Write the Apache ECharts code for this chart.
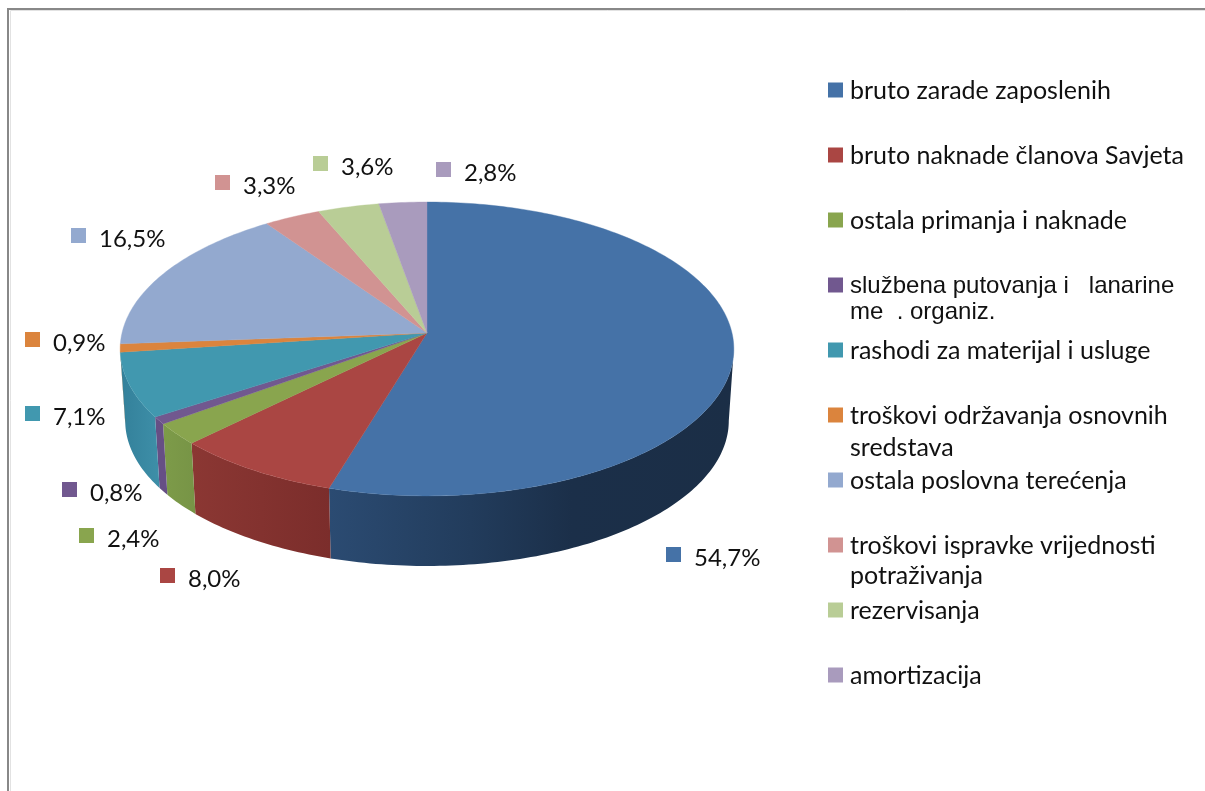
<!DOCTYPE html>
<html>
<head>
<meta charset="utf-8">
<style>
    html, body { margin: 0; padding: 0; background: #fff; }
    #chart { width: 1205px; height: 791px; }
</style>
<script src="https://cdn.jsdelivr.net/npm/echarts@6/dist/echarts.min.js"></script>
</head>
<body>
<div id="chart"></div>
<script>
    var categories = [
        'bruto zarade zaposlenih',
        'bruto naknade članova Savjeta',
        'ostala primanja i naknade',
        'službena putovanja i   lanarine',
        'rashodi za materijal i usluge',
        'troškovi održavanja osnovnih',
        'ostala poslovna terećenja',
        'troškovi ispravke vrijednosti',
        'rezervisanja',
        'amortizacija'
    ];
    var secondLines = ['', '', '', 'me  . organiz.', '', 'sredstava', '', 'potraživanja', '', ''];
    var shares = [54.7, 8.0, 2.4, 0.8, 7.1, 0.9, 16.5, 3.3, 3.6, 2.8];

    var topColors = ['#4572A7', '#AA4643', '#89A54E', '#71588F', '#4198AF', '#DB843D', '#93A9CF', '#D19392', '#B9CD96', '#A99BBD'];
    var wallColors = [
        [[0, '#2b4b72'], [0.35, '#223c5c'], [0.6, '#1b2f49'], [1, '#1b2e46']],
        [[0, '#8b3733'], [1, '#7b2d2b']],
        [[0, '#7d9b49'], [1, '#779446']],
        [[0, '#664f85'], [1, '#664f85']],
        [[0, '#33809a'], [1, '#3e8fa8']],
        [[0, '#c2742f'], [1, '#c2742f']],
        [[0, '#93A9CF'], [1, '#93A9CF']],
        [[0, '#D19392'], [1, '#D19392']],
        [[0, '#B9CD96'], [1, '#B9CD96']],
        [[0, '#A99BBD'], [1, '#A99BBD']]
    ];

    // left/top of the little square next to each percentage, text sits right of it
    var labelSpots = [[666, 547], [160, 568], [79, 528], [62, 482], [25, 406], [25, 332], [71, 228], [215, 175], [313, 156], [436, 162]];

    var textFont = 'Lato, "Open Sans", sans-serif';
    var labelSize = 24;
    var legendSize = 25;
    var perspective = 0.1087;
    var topRing = { cx: 427, cy: 333, a: 145.2, b: 305 };
    var bottomRing = { cx: 427, cy: 405, a: 143.5, b: 300 };
    // where the ellipse has its left and right extremes, wall stops there
    var wallEdge = Math.acos(-perspective) * 180 / Math.PI;

    function ringPoint(ring, deg) {
        var t = deg * Math.PI / 180;
        var w = 1 + perspective * Math.cos(t);
        return [ring.cx + ring.b * Math.sin(t) / w, ring.cy - ring.a * Math.cos(t) / w];
    }

    function arcPoints(ring, from, to) {
        var pts = [];
        var steps = Math.max(2, Math.ceil(Math.abs(to - from)));
        for (var i = 0; i <= steps; i++) {
            pts.push(ringPoint(ring, from + (to - from) * i / steps));
        }
        return pts;
    }

    function renderSlice(index) {
        return function (params, api) {
            var start = api.value(0);
            var end = api.value(1);
            var children = [];

            // side wall, only the part facing the viewer
            var wallFrom = Math.max(start, wallEdge);
            var wallTo = Math.min(end, 360 - wallEdge);
            if (wallTo > wallFrom) {
                var wall = arcPoints(topRing, wallFrom, wallTo).concat(arcPoints(bottomRing, wallTo, wallFrom));
                var stops = wallColors[index].map(function (s) { return { offset: s[0], color: s[1] }; });
                children.push({
                    type: 'polygon',
                    z2: 1,
                    shape: { points: wall },
                    style: { fill: new echarts.graphic.LinearGradient(0, 0, 1, 0, stops) }
                });
            }

            // top face
            var face = [[topRing.cx, topRing.cy]].concat(arcPoints(topRing, start, end));
            children.push({
                type: 'polygon',
                z2: 2,
                shape: { points: face },
                style: { fill: topColors[index], stroke: topColors[index], lineWidth: 0.4 }
            });

            // percentage with its square
            var spot = labelSpots[index];
            children.push({
                type: 'rect',
                z2: 3,
                shape: { x: spot[0], y: spot[1], width: 15, height: 15 },
                style: { fill: topColors[index] }
            });
            children.push({
                type: 'text',
                z2: 3,
                style: {
                    x: spot[0] + 28,
                    y: spot[1] + 11,
                    text: shares[index].toFixed(1).replace('.', ',') + '%',
                    fill: '#111',
                    font: labelSize + 'px ' + textFont,
                    verticalAlign: 'middle'
                }
            });
            return { type: 'group', children: children };
        };
    }

    var total = shares.reduce(function (a, b) { return a + b; }, 0);
    var running = 0;
    var series = categories.map(function (name, i) {
        var start = running / total * 360;
        running += shares[i];
        return {
            name: name,
            type: 'custom',
            coordinateSystem: 'none',
            silent: true,
            itemStyle: { color: topColors[i] },
            renderItem: renderSlice(i),
            data: [[start, running / total * 360]]
        };
    });

    // second lines of the long legend entries, ECharts legend can't keep even rows with them
    var extraOffsets = { 3: 223, 5: 358, 7: 486 };
    var extraText = [];
    secondLines.forEach(function (line, i) {
        if (!line) return;
        extraText.push({
            type: 'text',
            left: 850,
            top: 90 + extraOffsets[i] - 13,
            style: {
                text: line,
                fill: '#111',
                font: (i === 3 ? '24px "Liberation Sans"' : legendSize + 'px ' + textFont)
            }
        });
    });

    var chart = echarts.init(document.getElementById('chart'));
    chart.setOption({
        animation: false,
        color: topColors,
        legend: {
            orient: 'vertical',
            left: 828,
            top: 76,
            padding: 0,
            icon: 'rect',
            itemWidth: 15,
            itemHeight: 15,
            itemGap: 37,
            selectedMode: false,
            data: categories,
            formatter: function (name) {
                return name === categories[3] ? '{arial|' + name + '}' : name;
            },
            textStyle: {
                color: '#111',
                fontFamily: textFont,
                fontSize: legendSize,
                lineHeight: 26,
                padding: [2, 0, 0, 2],
                rich: {
                    arial: { fontFamily: 'Liberation Sans', fontSize: 24, lineHeight: 26, color: '#111' }
                }
            }
        },
        graphic: [
            {
                type: 'polyline',
                silent: true,
                z: -1,
                shape: { points: [[10.5, 791], [10.5, 10.5], [1205, 10.5]] },
                style: { fill: null, stroke: '#e2e2e2', lineWidth: 1 }
            },
            {
                type: 'polyline',
                silent: true,
                shape: { points: [[8, 791], [8, 9], [1205, 9]] },
                style: { fill: null, stroke: '#888', lineWidth: 2 }
            }
        ].concat(extraText),
        series: series
    });
</script>
</body>
</html>
